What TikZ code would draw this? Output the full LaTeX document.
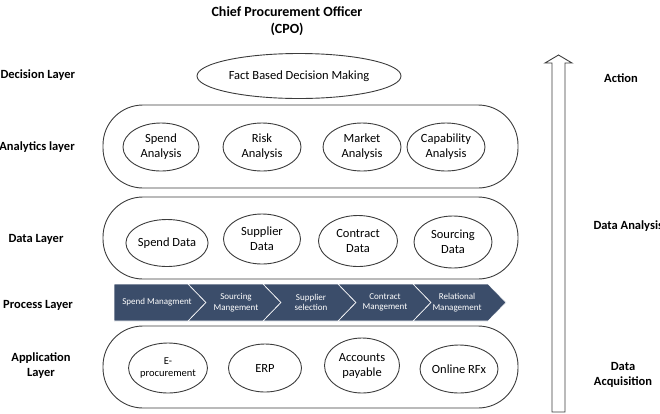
\documentclass[tikz,border=0pt]{standalone}
\usepackage{fontspec}
\setmainfont{Carlito}
\usetikzlibrary{shapes.geometric}
\definecolor{chev}{RGB}{59,77,106}
\definecolor{edgegray}{RGB}{60,60,60}
\begin{document}
\begin{tikzpicture}[x=1pt,y=-1pt,
 container/.style={draw=edgegray, line width=0.9pt, rounded corners=40pt, minimum width=415pt, minimum height=83pt, inner sep=0pt},
 oval/.style={draw=edgegray, ellipse, line width=0.9pt, inner sep=0pt, align=center, font=\fontsize{12.5}{15}\selectfont},
 layerlabel/.style={font=\fontsize{12.5}{15}\selectfont\bfseries, align=center},
 proc/.style={text=white, font=\fontsize{9}{10.5}\selectfont, align=center},
 seg/.style={fill=chev, draw=white, line width=0.6pt},
 bigarrow/.style={draw=edgegray, line width=0.9pt, fill=white}
]
\useasboundingbox (0,0) rectangle (660,413);

% title
\node[font=\fontsize{14}{17.5}\selectfont\bfseries, align=center] (cpo) at (287,21) {Chief Procurement Officer\\(CPO)};

% left labels
\node[layerlabel, anchor=west] (ldec) at (-3,75) {Decision Layer};
\node[layerlabel] (lana) at (37,147) {Analytics layer};
\node[layerlabel] (ldat) at (36,239) {Data Layer};
\node[layerlabel] (lpro) at (38,305) {Process Layer};
\node[layerlabel] (lapp) at (41,366) {Application\\Layer};

% right labels
\node[layerlabel] (ract) at (621,78) {Action};
\node[layerlabel, anchor=west] (rana) at (590,226) {Data Analysis};
\node[layerlabel] (racq) at (623,375) {Data\\Acquisition};

% arrow
\draw[bigarrow] (552,412) -- (552,63) -- (545,63) -- (558.5,55) -- (572,63) -- (565,63) -- (565,412) -- cycle;

% decision layer
\node[oval, minimum width=204pt, minimum height=45pt] (fact) at (299,76) {Fact Based Decision Making};

% analytics layer
\node[container] (anacont) at (310.5,146.5) {};
\node[oval, minimum width=76pt, minimum height=48pt] (spa) at (161,147) {Spend\\Analysis};
\node[oval, minimum width=78pt, minimum height=48pt] (ria) at (262,147) {Risk\\Analysis};
\node[oval, minimum width=78pt, minimum height=48pt] (mka) at (362,147) {Market\\Analysis};
\node[oval, minimum width=78pt, minimum height=48pt] (caa) at (446,147) {Capability\\Analysis};

% data layer
\node[container, minimum height=82pt] (datcont) at (310.5,238) {};
\node[oval, minimum width=78pt, minimum height=47pt] (spd) at (167,243) {Spend Data};
\node[oval, minimum width=77pt, minimum height=50pt] (sud) at (262,239) {Supplier\\Data};
\node[oval, minimum width=79pt, minimum height=51pt] (cod) at (358,241) {Contract\\Data};
\node[oval, minimum width=78pt, minimum height=52pt] (sod) at (453,242) {Sourcing\\Data};

% process layer
\path[seg] (114,284) -- (188,284) -- (206,302.5) -- (188,321) -- (114,321) -- cycle;
\path[seg] (188,284) -- (263,284) -- (281,302.5) -- (263,321) -- (188,321) -- (206,302.5) -- cycle;
\path[seg] (263,284) -- (338,284) -- (356,302.5) -- (338,321) -- (263,321) -- (281,302.5) -- cycle;
\path[seg] (338,284) -- (413,284) -- (431,302.5) -- (413,321) -- (338,321) -- (356,302.5) -- cycle;
\path[seg] (413,284) -- (488,284) -- (506,302.5) -- (488,321) -- (413,321) -- (431,302.5) -- cycle;
\node[proc] (p1) at (157,302.5) {Spend Managment};
\node[proc] (p2) at (236,302.5) {Sourcing\\Mangement};
\node[proc] (p3) at (311,302.5) {Supplier\\selection};
\node[proc] (p4) at (385,302.5) {Contract\\Mangement};
\node[proc] (p5) at (457,302.5) {Relational\\Management};

% application layer
\node[container, minimum height=82pt] (appcont) at (310.5,367) {};
\node[oval, minimum width=70pt, minimum height=50pt, font=\fontsize{10.5}{12}\selectfont] (epr) at (168,368) {E-\\procurement};
\node[oval, minimum width=73pt, minimum height=48pt] (erp) at (265,368) {ERP};
\node[oval, minimum width=75pt, minimum height=55pt] (acc) at (362,365.5) {Accounts\\payable};
\node[oval, minimum width=78pt, minimum height=48pt] (rfx) at (459,369) {Online RFx};
\end{tikzpicture}
\end{document}
